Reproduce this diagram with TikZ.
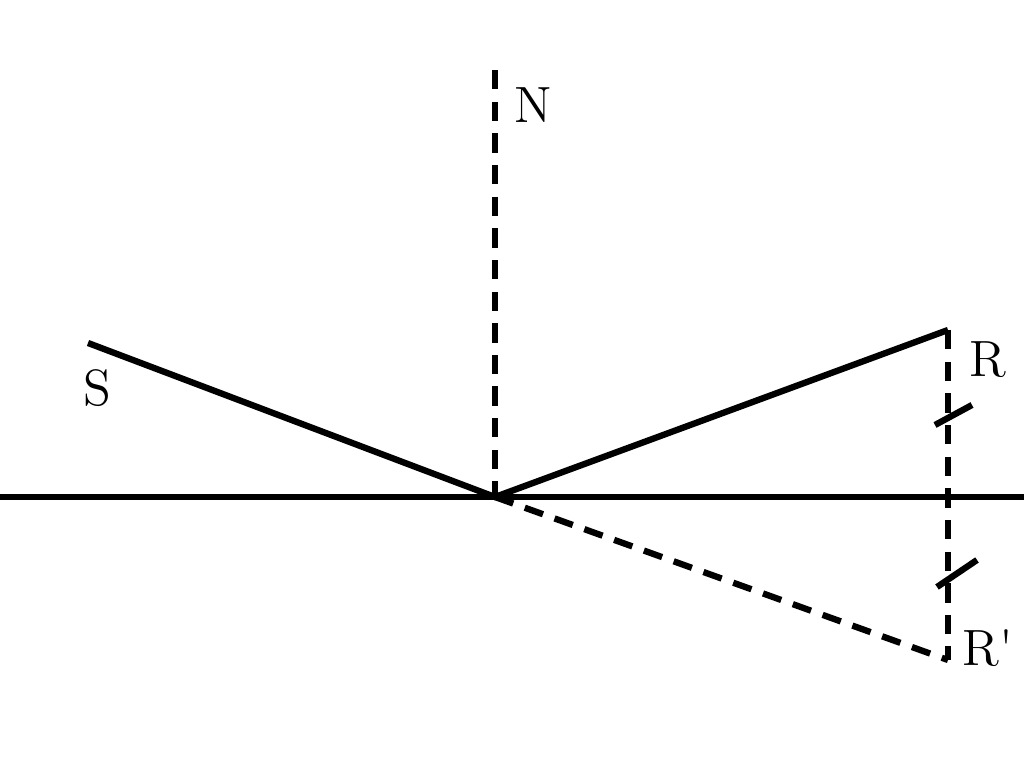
\documentclass[tikz,border=0pt]{standalone}
\usepackage{tikz}
\usetikzlibrary{positioning}

\begin{document}
\begin{tikzpicture}[x=0.01cm,y=-0.01cm,line width=1.8pt,
		strich/.style={dash pattern=on 5.5pt off 3.5pt},
		lbl/.style={font=\fontsize{14.5}{17}\selectfont}]
		\useasboundingbox (0,0) rectangle (1024,780);
		\coordinate (O) at (495,497);
		\coordinate (S) at (88,343);
		\coordinate (R) at (948,330);
		\coordinate (Rs) at (948,660);
		\coordinate (N) at (495,70);
		\coordinate (links) at (0,497);
		\coordinate (rechts) at (1024,497);
		
		\draw (links) -- (rechts);
		\draw[strich] (N) -- (O);
		\draw (S) -- (O) -- (R);
		\draw[strich] (R) -- (Rs);
		\draw[strich] (O) -- (Rs);
		% Markierungen gleicher Abstand
		\draw (935,425) -- (972,405);
		\draw (937,587) -- (977,560);
		
		\node[lbl] (nN) at (533,105) {N};
		\node[lbl] (nS) at (97,388) {S};
		\node[lbl] (nR) at (988,360) {R};
		\node[lbl] (nRs) at (988,648) {R\textquotesingle};
	\end{tikzpicture}
\end{document}
